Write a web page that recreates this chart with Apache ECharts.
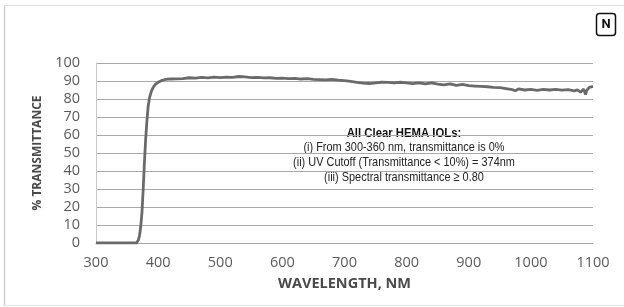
<!DOCTYPE html>
<html>
<head>
<meta charset="utf-8">
<script src="https://cdn.jsdelivr.net/npm/echarts@6/dist/echarts.min.js"></script>
<style>html,body{margin:0;padding:0;background:#fff}#c{width:624px;height:307px}</style>
</head>
<body>
<div id="c"></div>
<script>
const wavelengths = [300,310,320,330,340,350,360,365,368,370,372,374,376,378,380,382,384,386,388,390,393,396,400,405,410,415,420,430,440,450,460,470,480,490,500,510,520,530,540,550,560,570,580,590,600,610,620,630,640,650,660,670,680,690,700,710,720,730,740,750,760,770,780,790,800,810,820,830,840,850,860,870,880,890,900,910,920,930,940,950,960,970,975,980,990,1000,1010,1020,1030,1040,1050,1060,1070,1075,1080,1085,1088,1090,1094,1097,1100];
const transmittance = [0,0,0,0,0,0,0,0,1.5,4,9,17,30,45,58,68,76,80.5,83,85,87,88.3,89.3,90.2,90.7,91,91.1,91.2,91.3,91.8,91.6,92,91.7,92.1,91.9,92.2,92,92.5,92.3,91.9,92,91.7,91.8,91.5,91.6,91.3,91.5,91.1,91.3,90.9,90.8,90.6,90.9,90.5,90.2,89.8,89.2,88.8,88.6,88.9,89.3,89.2,89,89.3,88.9,88.6,89,88.4,88.9,88.3,87.9,88.4,87.6,88.1,87.4,87.2,87,86.8,86.5,86.3,85.8,85.2,84.6,85.6,85,85.3,84.8,85.4,85,85.3,84.9,85.2,84.5,85.1,83.8,85.5,82.5,84.8,86.5,85.8,87];
const xTicks = [300,400,500,600,700,800,900,1000,1100];
const yTicks = [0,10,20,30,40,50,60,70,80,90,100];
const noteTitle = 'All Clear HEMA IOLs:';
const noteLines = ['(i) From 300-360 nm, transmittance is 0%','(ii) UV Cutoff (Transmittance < 10%) = 374nm','(iii) Spectral transmittance \u2265 0.80'];

const chart = echarts.init(document.getElementById('c'), null, {renderer:'canvas'});
const arial = "'Liberation Sans',Arial,sans-serif";
function note(text, y, bold){
  return {type:'text',x:404,y:y,scaleX:bold?0.84:0.81,
    style:{text:text,font:(bold?'bold ':'')+'13.5px '+arial,fill:bold?'#111':'#222',align:'center',verticalAlign:'middle'}};
}
chart.setOption({
  animation:false,
  backgroundColor:'#fff',
  grid:{left:96,right:31,top:63,bottom:64,containLabel:false},
  xAxis:{type:'value',min:xTicks[0],max:xTicks[xTicks.length-1],interval:100,
    name:'WAVELENGTH, NM',nameLocation:'middle',nameGap:33,
    nameTextStyle:{fontFamily:'Open Sans',fontWeight:'bold',fontSize:14.5,color:'#4a4a4a'},
    axisLine:{show:true,lineStyle:{color:'#a6a6a6',width:1}},axisTick:{show:false},
    axisLabel:{fontFamily:'Open Sans',fontSize:14.5,color:'#5a5a5a',margin:12,formatter:v=>String(v)},
    splitLine:{show:false}},
  yAxis:{type:'value',min:yTicks[0],max:yTicks[yTicks.length-1],interval:10,
    name:'% TRANSMITTANCE',nameLocation:'middle',nameGap:52,nameRotate:90,
    nameTextStyle:{fontFamily:'Open Sans',fontWeight:'bold',fontSize:12,color:'#4a4a4a'},
    axisLine:{show:true,lineStyle:{color:'#c8c8c8',width:1}},axisTick:{show:false},
    axisLabel:{fontFamily:'Open Sans',fontSize:14.5,color:'#5a5a5a',margin:16,formatter:v=>String(v)},
    splitLine:{show:true,lineStyle:{color:'#a8a8a8',width:1}}},
  series:[{type:'line',data:wavelengths.map((w,i)=>[w,transmittance[i]]),showSymbol:false,
    lineStyle:{color:'#6a6a6a',width:2.8},smooth:false}],
  graphic:[
    {type:'line',shape:{x1:4.5,y1:5.5,x2:624,y2:5.5},style:{stroke:'#dcdcdc',lineWidth:1}},
    {type:'line',shape:{x1:4.5,y1:5.5,x2:4.5,y2:305.5},style:{stroke:'#d0d0d0',lineWidth:1.5}},
    {type:'line',shape:{x1:4.5,y1:305.5,x2:624,y2:305.5},style:{stroke:'#e4e4e4',lineWidth:1}},
    {type:'rect',shape:{x:596.5,y:13.5,width:19,height:22,r:3},style:{fill:'#fff',stroke:'#111',lineWidth:1.5}},
    {type:'text',x:606,y:25,style:{text:'N',font:'bold 13px Roboto, sans-serif',fill:'#111',align:'center',verticalAlign:'middle'}},
    note(noteTitle,133,true),
    note(noteLines[0],147.5,false),
    note(noteLines[1],162,false),
    note(noteLines[2],177,false)
  ]
});
</script>
</body>
</html>
